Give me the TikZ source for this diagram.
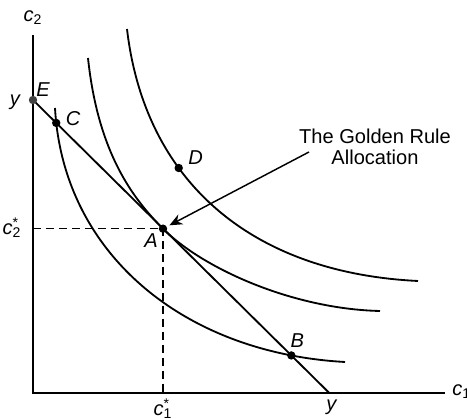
\documentclass[tikz,border=0pt]{standalone}
\usepackage{fontspec}
\setmainfont{Liberation Sans}
\usetikzlibrary{intersections,arrows.meta}

\begin{document}
\begin{tikzpicture}[x=5.48pt, y=5.48pt,
  font=\fontsize{11}{11.8}\selectfont,
  curve/.style={line width=1pt},
  dot/.style={circle, fill, inner sep=0pt, minimum size=4.6pt},
  lab/.style={font=\fontsize{11}{11.8}\selectfont\itshape, inner sep=0pt}]
  \useasboundingbox (-3.3,-2.6) rectangle (43.4,39.3);

  % axes
  \coordinate (O) at (0,0);
  \coordinate (xend) at (41.2,0);
  \coordinate (yend) at (0,35.8);
  \draw[line width=1pt] (xend) -- (O) -- (yend);
  \node[lab, anchor=west] (c1lab) at (41.9,0.1) {c\textup{\textsubscript{1}}};
  \node[lab] (c2lab) at (0,37.5) {c\textup{\textsubscript{2}}};

  % budget line
  \coordinate (E) at (0,29.3);
  \coordinate (Y) at (29.63,0);
  \draw[line width=1pt, name path=budget] (E) -- (Y);

  % golden rule point
  \coordinate (A) at (13,16.43);
  \coordinate (c2s) at (0,16.43);
  \coordinate (c1s) at (13,0);

  % indifference curves
  \draw[curve, name path=low] (2.2,28.5) .. controls (3,14) and (15,4) .. (31.2,3.1);
  \draw[curve] (5.5,33.5) .. controls (6.5,24) and (10,19.43) .. (A)
    .. controls (17,12.43) and (26,8.4) .. (34.7,8.2);
  \draw[curve] (9.4,36.4) .. controls (11.2,21) and (22,12) .. (38.5,11.2)
    node[dot, pos=0.355] (Ddot) {};

  \path[name intersections={of=budget and low, name=bc, sort by=budget}];

  \draw[line width=0.8pt, dash pattern=on 4.5pt off 2.6pt] (c2s) -- (A) -- (c1s);

  \node[dot, fill=black!75] (Edot) at (E) {};
  \node[dot] (Cdot) at (bc-1) {};
  \node[dot] (Bdot) at (bc-2) {};
  \node[dot] (Adot) at (A) {};

  \node[lab] (ylab) at ([shift={(-1.8,-0.2)}]E) {y};
  \node[lab] (Elab) at ([shift={(1.0,1.0)}]E) {E};
  \node[lab] (Clab) at ([shift={(1.7,0.4)}]Cdot) {C};
  \node[lab] (Alab) at ([shift={(-1.2,-1.2)}]A) {A};
  \node[lab] (Blab) at ([shift={(0.6,1.5)}]Bdot) {B};
  \node[lab] (Dlab) at ([shift={(1.7,1.0)}]Ddot) {D};
  \node[lab] (c2slab) at ([shift={(-2.1,0.1)}]c2s)
    {c\rlap{\textup{\textsuperscript{*}}}\textup{\textsubscript{2}}};
  \node[lab] (c1slab) at ([shift={(0,-1.6)}]c1s)
    {c\rlap{\textup{\textsuperscript{*}}}\textup{\textsubscript{1}}};
  \node[lab] (yxlab) at ([shift={(0.2,-1.4)}]Y) {y};

  % label and arrow
  \node[align=center, inner sep=0pt] (golden) at (34.2,24.6)
    {The Golden Rule\\Allocation};
  \coordinate (tail) at (27.6,24.1);
  \draw[line width=0.8pt, -{Stealth[length=7pt, width=6pt]}, shorten >=4pt]
    (tail) -- (Adot.center);
\end{tikzpicture}
\end{document}
